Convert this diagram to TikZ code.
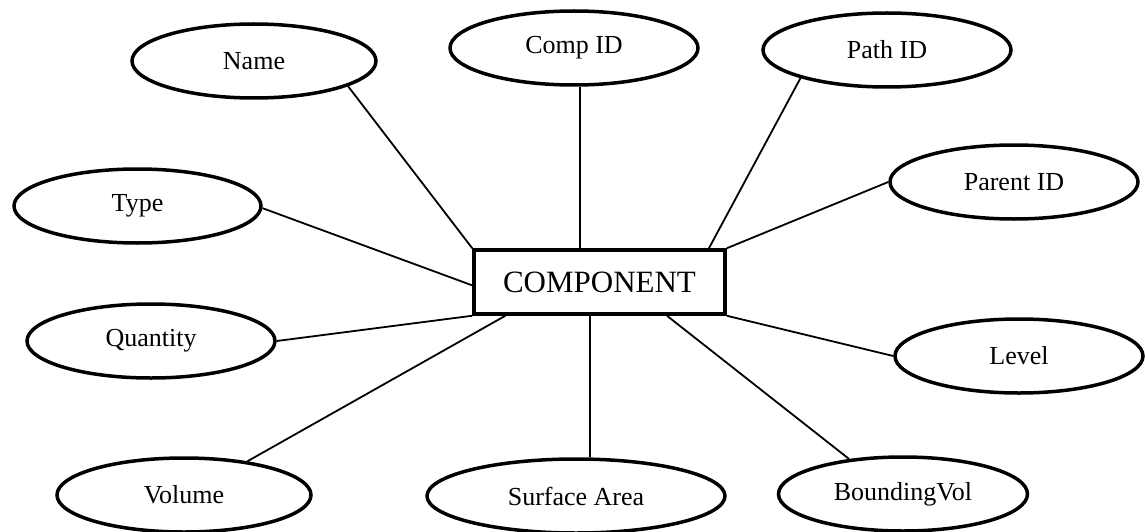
\documentclass[tikz,border=0pt]{standalone}
\usepackage{fontspec}
\setmainfont{Liberation Serif}
\usetikzlibrary{shapes.geometric,calc}
\begin{document}
\begin{tikzpicture}[x=1pt,y=-1pt,
  attr/.style={draw, ellipse, line width=3.5pt, minimum width=248pt,
    minimum height=74pt, inner sep=0pt, font=\fontsize{26}{30}\selectfont},
  entity/.style={draw, rectangle, line width=3.5pt, minimum width=251pt,
    minimum height=64pt, inner sep=0pt, font=\fontsize{31}{36}\selectfont},
  link/.style={line width=1.8pt}]
\useasboundingbox (0,0) rectangle (1145,532);

% entity
\node[entity] (comp) at (599.5,282) {COMPONENT};

% attributes
\node[attr, minimum width=244pt] (name)     at (254,61)   {Name};
\node[attr]                      (compid)   at (574,48)   {Comp ID};
\node[attr]                      (pathid)   at (887,50)   {Path ID};
\node[attr]                      (parentid) at (1014,182) {Parent ID};
\node[attr, minimum width=247pt] (type)     at (137.5,206) {Type};
\node[attr]                      (quantity) at (151,341)  {Quantity};
\node[attr]                      (level)    at (1019,356) {Level};
\node[attr, minimum width=254pt] (volume)   at (184,495)  {Volume};
\node[attr, minimum width=298pt] (surface)  at (576,496)  {Surface Area};
\node[attr, minimum width=249pt] (bvol)     at (903,494)  {BoundingVol};

% links from attributes to the entity
\draw[link] (name.-15) -- (comp.north west);
\draw[link] (compid.-81) -- (compid.-81 |- comp.north);
\draw[link] (pathid.-162) -- ($(comp.north west)!0.93!(comp.north east)$);
\draw[link] (parentid.180) -- (comp.north east);
\draw[link] (type.-1) -- ($(comp.north west)!0.55!(comp.south west)$);
\draw[link] (quantity.0) -- (comp.south west);
\draw[link] (level.180) -- (comp.south east);
\draw[link] (volume.28) -- ($(comp.south west)!0.13!(comp.south east)$);
\draw[link] (surface.70) -- (surface.70 |- comp.south);
\draw[link] (bvol.147) -- ($(comp.south west)!0.765!(comp.south east)$);
\end{tikzpicture}
\end{document}
